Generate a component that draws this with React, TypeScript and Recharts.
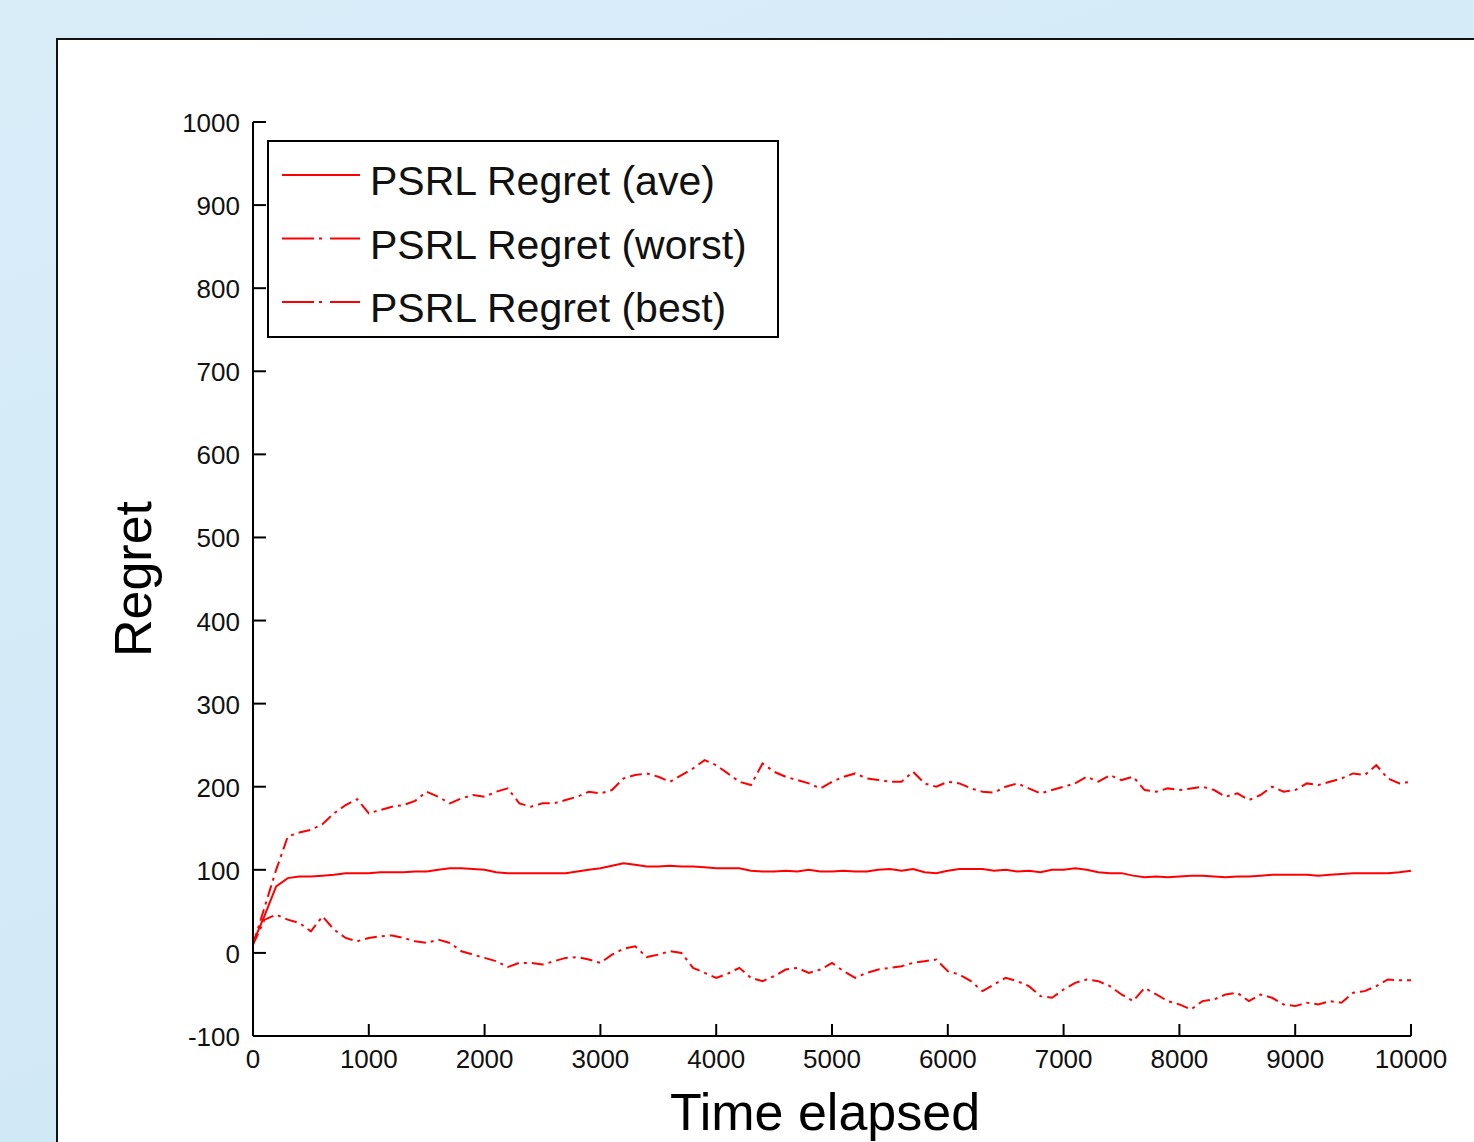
import React from 'react';
import { LineChart, Line, XAxis, YAxis, Legend, Label } from 'recharts';

const timeSteps = [
  0, 100, 200, 300, 400, 500, 600, 700, 800, 900,
  1000, 1100, 1200, 1300, 1400, 1500, 1600, 1700, 1800, 1900,
  2000, 2100, 2200, 2300, 2400, 2500, 2600, 2700, 2800, 2900,
  3000, 3100, 3200, 3300, 3400, 3500, 3600, 3700, 3800, 3900,
  4000, 4100, 4200, 4300, 4400, 4500, 4600, 4700, 4800, 4900,
  5000, 5100, 5200, 5300, 5400, 5500, 5600, 5700, 5800, 5900,
  6000, 6100, 6200, 6300, 6400, 6500, 6600, 6700, 6800, 6900,
  7000, 7100, 7200, 7300, 7400, 7500, 7600, 7700, 7800, 7900,
  8000, 8100, 8200, 8300, 8400, 8500, 8600, 8700, 8800, 8900,
  9000, 9100, 9200, 9300, 9400, 9500, 9600, 9700, 9800, 9900,
  10000,
];

const regretAve = [
  12, 45, 80, 90, 92, 92, 93, 94, 96, 96,
  96, 97, 97, 97, 98, 98, 100, 102, 102, 101,
  100, 97, 96, 96, 96, 96, 96, 96, 98, 100,
  102, 105, 108, 106, 104, 104, 105, 104, 104, 103,
  102, 102, 102, 99, 98, 98, 99, 98, 100, 98,
  98, 99, 98, 98, 100, 101, 99, 101, 97, 96,
  99, 101, 101, 101, 99, 100, 98, 99, 97, 100,
  100, 102, 100, 97, 96, 96, 93, 91, 92, 91,
  92, 93, 93, 92, 91, 92, 92, 93, 94, 94,
  94, 94, 93, 94, 95, 96, 96, 96, 96, 97,
  99,
];

const regretWorst = [
  10, 55, 100, 140, 145, 148, 155, 168, 178, 185,
  168, 172, 176, 178, 183, 194, 188, 180, 186, 190,
  188, 194, 198, 180, 176, 180, 180, 184, 188, 194,
  192, 196, 210, 214, 216, 212, 206, 214, 222, 232,
  226, 216, 206, 202, 228, 218, 212, 208, 204, 198,
  206, 212, 216, 210, 208, 206, 206, 218, 204, 200,
  206, 204, 198, 194, 193, 200, 204, 198, 192, 196,
  200, 204, 212, 206, 214, 208, 212, 196, 194, 198,
  196, 198, 200, 196, 188, 192, 184, 190, 200, 194,
  196, 204, 202, 206, 210, 216, 214, 226, 210, 204,
  206,
];

const regretBest = [
  10, 40, 46, 40, 36, 26, 44, 28, 18, 14,
  18, 20, 21, 18, 14, 12, 16, 12, 2, -2,
  -6, -10, -17, -12, -12, -14, -10, -6, -5, -8,
  -12, -2, 5, 8, -5, -2, 2, 0, -18, -24,
  -30, -25, -18, -30, -34, -28, -20, -18, -24, -20,
  -12, -22, -30, -24, -20, -18, -16, -12, -10, -8,
  -22, -26, -34, -46, -38, -30, -34, -40, -52, -54,
  -44, -36, -32, -34, -40, -50, -58, -42, -50, -58,
  -62, -68, -58, -56, -50, -48, -58, -50, -54, -62,
  -64, -60, -62, -58, -60, -48, -46, -40, -32, -33,
  -33,
];

const xTicks = [0, 1000, 2000, 3000, 4000, 5000, 6000, 7000, 8000, 9000, 10000];
const yTicks = [-100, 0, 100, 200, 300, 400, 500, 600, 700, 800, 900, 1000];

const seriesNames = ['PSRL Regret (ave)', 'PSRL Regret (worst)', 'PSRL Regret (best)'];

const data = timeSteps.map((t, i) => ({
  t,
  ave: regretAve[i],
  worst: regretWorst[i],
  best: regretBest[i],
}));

const FONT = '"Liberation Sans", Arial, sans-serif';
const RED = '#ff0000';

const XTick = (props: any) => {
  const { x, y, payload } = props;
  return (
    <g>
      <line x1={x} x2={x} y1={y} y2={y - 12} stroke="#000" strokeWidth={2} />
      <text x={x} y={y + 32} textAnchor="middle" fontFamily={FONT} fontSize={26} fill="#111">
        {payload.value}
      </text>
    </g>
  );
};

const YTick = (props: any) => {
  const { x, y, payload } = props;
  return (
    <g>
      <line x1={x} x2={x + 13} y1={y} y2={y} stroke="#000" strokeWidth={2} />
      <text x={x - 13} y={y + 10} textAnchor="end" fontFamily={FONT} fontSize={26} fill="#111">
        {payload.value}
      </text>
    </g>
  );
};

const LegendBox = () => {
  const rows = [
    { name: seriesNames[0], dash: undefined },
    { name: seriesNames[1], dash: '32 5 3 8' },
    { name: seriesNames[2], dash: '32 5 3 8' },
  ];
  return (
    <div style={{ width: 508, height: 194, border: '2px solid #000', background: '#fff' }}>
      <svg width={508} height={194}>
        {rows.map((r, i) => (
          <g key={r.name}>
            <line
              x1={13}
              x2={91}
              y1={33 + i * 63.5}
              y2={33 + i * 63.5}
              stroke={RED}
              strokeWidth={2}
              strokeDasharray={r.dash}
            />
            <text x={101} y={53 + i * 63.5} fontFamily={FONT} fontSize={41} fill="#111">
              {r.name}
            </text>
          </g>
        ))}
      </svg>
    </div>
  );
};

export default function App() {
  return (
    <div
      style={{
        position: 'fixed',
        left: 0,
        top: 0,
        width: 1474,
        height: 1142,
        overflow: 'hidden',
        background: 'linear-gradient(160deg, #d9edf9 0%, #d3e9f7 60%, #cbe5f6 100%)',
      }}
    >
      <div
        style={{
          position: 'absolute',
          left: 56,
          top: 38,
          width: 1500,
          height: 1200,
          border: '2px solid #111',
          background: '#fff',
        }}
      />
      <div style={{ position: 'absolute', left: 0, top: 0 }}>
        <LineChart
          width={1474}
          height={1142}
          data={data}
          margin={{ top: 122, right: 63, bottom: 0, left: 0 }}
        >
          <XAxis
            dataKey="t"
            type="number"
            domain={[0, 10000]}
            ticks={xTicks}
            height={106}
            tickSize={0}
            tickMargin={0}
            tick={<XTick />}
            axisLine={{ stroke: '#000', strokeWidth: 2 }}
            tickLine={false}
            interval={0}
          >
            <Label
              content={(p: any) => {
                const vb = p.viewBox || { x: 253, width: 1158, y: 1036 };
                return (
                  <text
                    x={vb.x + vb.width / 2 - 7}
                    y={1130}
                    textAnchor="middle"
                    fontFamily={FONT}
                    fontSize={52}
                    fill="#000"
                  >
                    Time elapsed
                  </text>
                );
              }}
            />
          </XAxis>
          <YAxis
            type="number"
            domain={[-100, 1000]}
            ticks={yTicks}
            width={253}
            tickSize={0}
            tickMargin={0}
            tick={<YTick />}
            axisLine={{ stroke: '#000', strokeWidth: 2 }}
            tickLine={false}
            interval={0}
          >
            <Label
              content={(p: any) => {
                const vb = p.viewBox || { y: 122, height: 914 };
                const cy = vb.y + vb.height / 2;
                return (
                  <text
                    x={151}
                    y={cy}
                    transform={`rotate(-90 151 ${cy})`}
                    textAnchor="middle"
                    fontFamily={FONT}
                    fontSize={52}
                    fill="#000"
                  >
                    Regret
                  </text>
                );
              }}
            />
          </YAxis>
          <Legend
            layout="horizontal"
            verticalAlign="middle"
            align="center"
            content={<LegendBox />}
            wrapperStyle={{ left: 267, top: 140, width: 512, height: 198 }}
          />
          <Line
            dataKey="ave"
            name={seriesNames[0]}
            stroke={RED}
            strokeWidth={2}
            dot={false}
            type="linear"
            isAnimationActive={false}
          />
          <Line
            dataKey="worst"
            name={seriesNames[1]}
            stroke={RED}
            strokeWidth={2}
            strokeDasharray="12 5 3 5"
            dot={false}
            type="linear"
            isAnimationActive={false}
          />
          <Line
            dataKey="best"
            name={seriesNames[2]}
            stroke={RED}
            strokeWidth={2}
            strokeDasharray="12 5 3 5"
            dot={false}
            type="linear"
            isAnimationActive={false}
          />
        </LineChart>
      </div>
    </div>
  );
}
